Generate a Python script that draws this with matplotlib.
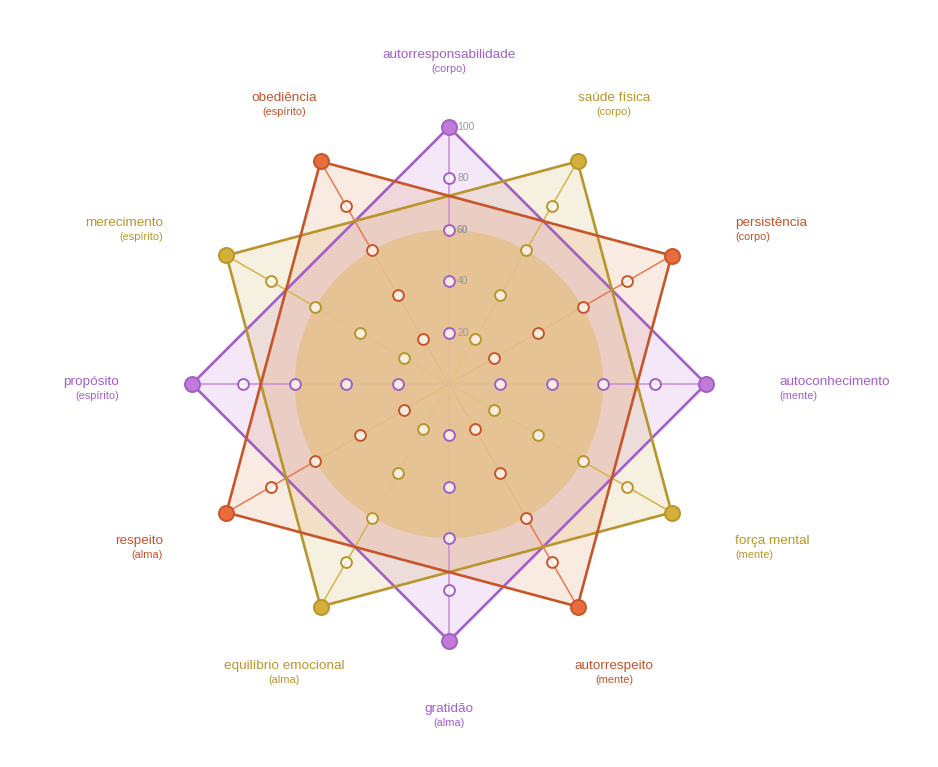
import numpy as np
import matplotlib
matplotlib.use("Agg")
import matplotlib.pyplot as plt
from matplotlib.transforms import offset_copy

plt.rcParams['font.family'] = ['Liberation Sans', 'DejaVu Sans']

# ---- data ----
categories = ['autorresponsabilidade', 'saúde física', 'persistência', 'autoconhecimento',
              'força mental', 'autorrespeito', 'gratidão', 'equilíbrio emocional',
              'respeito', 'propósito', 'merecimento', 'obediência']
dimensions = ['corpo', 'corpo', 'corpo', 'mente', 'mente', 'mente',
              'alma', 'alma', 'alma', 'espírito', 'espírito', 'espírito']
series_names = ['roxo', 'dourado', 'laranja']
series_values = {
    'roxo':    [100, None, None, 100, None, None, 100, None, None, 100, None, None],
    'dourado': [None, 100, None, None, 100, None, None, 100, None, None, 100, None],
    'laranja': [None, None, 100, None, None, 100, None, None, 100, None, None, 100],
}
step_values = [20, 40, 60, 80]
tick_values = [20, 40, 60, 80, 100]
circle_value = 60
r_max = 100

# ---- styles ----
styles = {
    'roxo':    dict(line='#a25fc6', marker='#c27ad9', spoke='#c98bd8', fill='#b56bd6', text='#a35ec9'),
    'dourado': dict(line='#b8962b', marker='#d4b03a', spoke='#d6b54a', fill='#c8a640', text='#b8962b'),
    'laranja': dict(line='#c6562a', marker='#e86c3c', spoke='#e67a50', fill='#e5884f', text='#c0542a'),
}
# vertical nudge (pixels, up positive) of the label block by angle from top
label_nudge = {0: -1, 30: 0, 60: -4, 90: 2, 120: 8, 150: 4, 180: 5}

fig = plt.figure(figsize=(9.38, 7.67), dpi=100)
ax = fig.add_axes([192 / 938, 126 / 767, 514 / 938, 514 / 767], projection='polar')
ax.set_theta_offset(np.pi / 2)
ax.set_theta_direction(-1)
ax.set_ylim(0, r_max)
ax.set_axis_off()

n = len(categories)
thetas = np.arange(n) * 2 * np.pi / n

# owner of each axis
owner = []
for i in range(n):
    for s in series_names:
        if series_values[s][i] is not None:
            owner.append(s)
            break

# polygons
for k, s in enumerate(series_names):
    vals = series_values[s]
    idx = [i for i in range(n) if vals[i] is not None]
    th = [thetas[i] for i in idx] + [thetas[idx[0]]]
    rr = [vals[i] for i in idx] + [vals[idx[0]]]
    st = styles[s]
    ax.fill(th, rr, color=st['fill'], alpha=0.16, zorder=1, lw=0)
    ax.plot(th, rr, color=st['line'], lw=1.9, zorder=4 + k * 0.1, clip_on=False)

# spokes
for i in range(n):
    st = styles[owner[i]]
    ax.plot([thetas[i], thetas[i]], [0, series_values[owner[i]][i]], color=st['spoke'],
            lw=1.1, zorder=3, clip_on=False)

# inner circle
tc = np.linspace(0, 2 * np.pi, 361)
ax.fill(tc, np.full_like(tc, circle_value), color='#e6c290', alpha=0.9, lw=0, zorder=5)

# hollow step markers
for i in range(n):
    st = styles[owner[i]]
    for v in step_values:
        ax.plot(thetas[i], v, 'o', ms=7.8, mfc=(1, 1, 1, 0.72), mec=st['line'],
                mew=1.4, zorder=6, clip_on=False)

# big markers
for s in series_names:
    st = styles[s]
    for i in range(n):
        v = series_values[s][i]
        if v is not None:
            ax.plot(thetas[i], v, 'o', ms=10.8, mfc=st['marker'], mec=st['line'],
                    mew=1.4, zorder=7, clip_on=False)

# tick labels along the top spoke
tick_tr = offset_copy(ax.transData, fig=fig, x=8, y=0, units='dots')
for v in tick_values:
    ax.text(0, v, str(v), transform=tick_tr, ha='left', va='center', fontsize=7.5,
            color='#9a9a9a', fontweight='bold' if v == circle_value else 'normal', zorder=8)

# category labels
r_label = 128.5
for i in range(n):
    deg = int(round(np.degrees(thetas[i]))) % 360
    st = styles[owner[i]]
    if deg in (0, 30, 150, 180, 210, 330):
        ha = 'center'
    elif deg < 180:
        ha = 'left'
    else:
        ha = 'right'
    dy = label_nudge[deg if deg <= 180 else 360 - deg]
    t1 = offset_copy(ax.transData, fig=fig, x=0, y=dy, units='dots')
    t2 = offset_copy(ax.transData, fig=fig, x=0, y=dy - 14, units='dots')
    ax.text(thetas[i], r_label, categories[i], transform=t1, ha=ha, va='center',
            fontsize=9.7, color=st['text'])
    ax.text(thetas[i], r_label, f'({dimensions[i]})', transform=t2, ha=ha, va='center',
            fontsize=7.9, color=st['text'])

fig.savefig('out.png', dpi=100, facecolor='white')
